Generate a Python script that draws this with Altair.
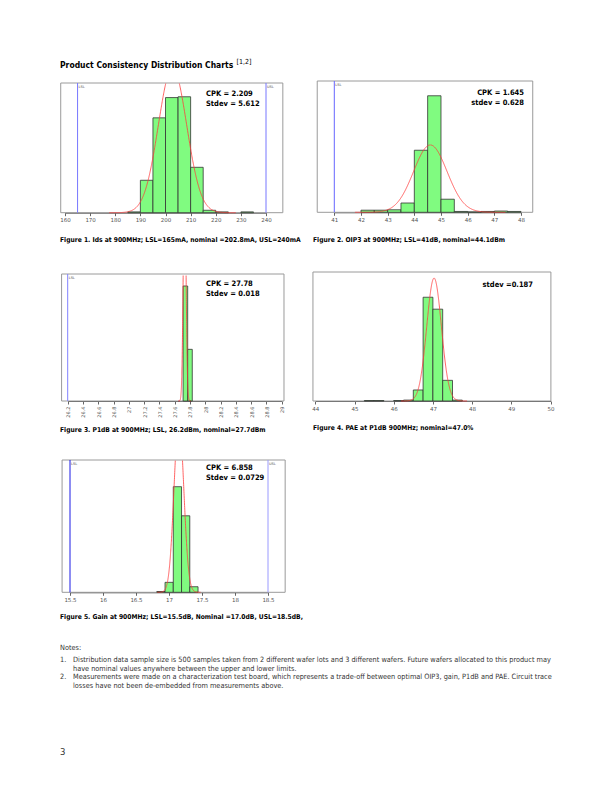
import altair as alt
import pandas as pd

W, H = 596, 776
FONT = "DejaVu Sans Condensed, sans-serif"
GREEN = "#80fb80"
BAR_STROKE = "#333333"
CURVE = "#ff3b3b"

TITLE = "Product Consistency Distribution Charts"
TITLE_REF = "[1,2]"

# ---------- Figure 1: Ids ----------
ids_bin_lo = [185, 190, 195, 200, 205, 210, 215, 220, 230]
ids_counts = [1, 40, 117, 142, 143, 56, 3, 1, 1]
ids_bin_w = 5
ids_ticks = [160, 170, 180, 190, 200, 210, 220, 230, 240]
ids_mean, ids_sd = 202.8, 5.612
ids_lsl, ids_usl = 165, 240
ids_ann = ["CPK = 2.209", "Stdev = 5.612"]
ids_caption = "Figure 1. Ids at 900MHz; LSL=165mA, nominal =202.8mA, USL=240mA"

# ---------- Figure 2: OIP3 ----------
oip3_bin_lo = [42, 42.5, 43, 43.5, 44, 44.5, 45, 45.5, 46, 46.5, 47, 47.5]
oip3_counts = [5, 5, 6, 22, 147, 276, 31, 2, 1, 2, 3, 2]
oip3_bin_w = 0.5
oip3_ticks = [41, 42, 43, 44, 45, 46, 47, 48]
oip3_mean, oip3_sd = 44.6, 0.628
oip3_lsl = 41
oip3_ann = ["CPK = 1.645", "stdev = 0.628"]
oip3_caption = "Figure 2.  OIP3 at 900MHz; LSL=41dB, nominal=44.1dBm"

# ---------- Figure 3: P1dB ----------
p1db_bin_lo = [27.71, 27.77]
p1db_counts = [345, 155]
p1db_bin_w = 0.06
p1db_ticks = [26.2, 26.4, 26.6, 26.8, 27.0, 27.2, 27.4, 27.6, 27.8, 28.0,
              28.2, 28.4, 28.6, 28.8, 29.0]
p1db_mean, p1db_sd = 27.73, 0.018
p1db_lsl = 26.2
p1db_ann = ["CPK = 27.78", "Stdev = 0.018"]
p1db_caption = "Figure 3. P1dB at 900MHz; LSL, 26.2dBm, nominal=27.7dBm"

# ---------- Figure 4: PAE ----------
pae_bin_lo = [45.25, 45.5, 46.0, 46.25, 46.5, 46.75, 47.0, 47.25, 47.5]
pae_counts = [1, 1, 1, 2, 24, 226, 200, 45, 2]
pae_bin_w = 0.25
pae_ticks = [44, 45, 46, 47, 48, 49, 50]
pae_mean, pae_sd = 47.03, 0.187
pae_ann = ["stdev =0.187"]
pae_caption = "Figure 4. PAE at P1dB 900MHz; nominal=47.0%"

# ---------- Figure 5: Gain ----------
gain_bin_lo = [16.815, 16.94, 17.065, 17.19, 17.315]
gain_counts = [2, 25, 265, 192, 14]
gain_bin_w = 0.125
gain_ticks = [15.5, 16, 16.5, 17, 17.5, 18, 18.5]
gain_mean, gain_sd = 17.15, 0.0729
gain_curve_area = 80
gain_lsl, gain_usl = 15.5, 18.5
gain_ann = ["CPK = 6.858", "Stdev = 0.0729"]
gain_caption = "Figure 5. Gain at 900MHz; LSL=15.5dB, Nominal =17.0dB, USL=18.5dB,"

notes_head = "Notes:"
notes_nums = ["1.", "", "2.", ""]
notes_lines = [
    "Distribution data sample size is 500 samples taken from 2 different wafer lots and 3 different wafers. Future wafers allocated to this product may",
    "have nominal values anywhere between the upper and lower limits.",
    "Measurements were made on a characterization test board, which represents a trade-off between optimal OIP3, gain, P1dB and PAE. Circuit trace",
    "losses have not been de-embedded from measurements above.",
]
page_number = "3"

ONE = pd.DataFrame({"_": [0]})


def text_layer(txt, x, y, size, weight="normal", color="#000", align="left", font=FONT):
    return alt.Chart(ONE).mark_text(
        text=txt, font=font, fontSize=size, fontWeight=weight, color=color,
        align=align, baseline="middle",
    ).encode(x=alt.value(x), y=alt.value(y))


def panel(bin_lo, counts, bw, ticks, dom, rng, frame_x, ybase, ytop, ymax,
          mean, sd, area, limits, ann, ann_x, ann_y, ann_align, fmt, angle=0,
          label_size=5.5):
    xs = alt.Scale(domain=dom, range=rng, nice=False, zero=False)
    ys = alt.Scale(domain=[0, ymax], range=[ybase, ytop], nice=False, zero=False)
    ax = alt.Axis(values=ticks, orient="bottom", offset=ybase - H, title=None,
                  grid=False, format=fmt, labelAngle=angle, labelFontSize=label_size,
                  labelColor="#555", labelFont="DejaVu Sans", tickColor="#666",
                  tickSize=3, domainColor="#555", domainWidth=1, labelFlush=False,
                  labelOverlap=False, labelPadding=2)
    layers = []
    frame = alt.Chart(ONE).mark_rect(fill="white", fillOpacity=0, stroke="#9a9a9a",
                                     strokeWidth=1).encode(
        x=alt.XDatum(frame_x[0], scale=xs, axis=ax), x2=alt.X2Datum(frame_x[1]),
        y=alt.YDatum(0, scale=ys, axis=None), y2=alt.Y2Datum(ymax))
    layers.append(frame)
    for val, col, lab in limits:
        rule = alt.Chart(ONE).mark_rule(color=col, strokeWidth=1).encode(
            x=alt.XDatum(val, scale=xs, axis=ax),
            y=alt.YDatum(0, scale=ys, axis=None), y2=alt.Y2Datum(ymax))
        lab_t = alt.Chart(ONE).mark_text(text=lab, fontSize=3.5, color="#555",
                                         align="left", baseline="top", dx=1,
                                         font="DejaVu Sans").encode(
            x=alt.XDatum(val, scale=xs, axis=ax), y=alt.value(ytop + 2))
        layers += [rule, lab_t]
    df = pd.DataFrame({"lo": bin_lo, "count": counts})
    bars = alt.Chart(df).transform_calculate(hi=f"datum.lo + {bw}").mark_rect(
        fill=GREEN, stroke=BAR_STROKE, strokeWidth=0.8).encode(
        x=alt.X("lo:Q", scale=xs, axis=ax), x2="hi:Q",
        y=alt.Y("count:Q", scale=ys, axis=None), y2=alt.Y2Datum(0))
    layers.append(bars)
    curve = alt.Chart(alt.sequence(mean - 4.5 * sd, mean + 4.5 * sd, sd / 60, as_="x")) \
        .transform_calculate(y=f"{area} * densityNormal(datum.x, {mean}, {sd})") \
        .transform_filter(f"datum.y <= {ymax}") \
        .transform_calculate(side=f"datum.x < {mean} ? 'L' : 'R'") \
        .mark_line(color=CURVE, strokeWidth=0.8).encode(
        x=alt.X("x:Q", scale=xs, axis=ax),
        y=alt.Y("y:Q", scale=ys, axis=None), detail="side:N")
    layers.append(curve)
    for i, t in enumerate(ann):
        layers.append(text_layer(t, ann_x, ann_y + 10 * i, 7.5, "bold", align=ann_align))
    return alt.layer(*layers)


p1 = panel(ids_bin_lo, ids_counts, ids_bin_w, ids_ticks, [160, 240], [57, 258],
           [158.3, 246.7], 204.7, 75, 160, ids_mean, ids_sd,
           sum(ids_counts) * ids_bin_w,
           [(ids_lsl, "#7777ff", "LSL"), (ids_usl, "#7777ff", "USL")],
           ids_ann, 198, 86, "left", "d")
p2 = panel(oip3_bin_lo, oip3_counts, oip3_bin_w, oip3_ticks, [41, 48], [326.3, 513],
           [40.36, 48.44], 204.3, 73, 311, oip3_mean, oip3_sd,
           sum(oip3_counts) * oip3_bin_w,
           [(oip3_lsl, "#6666ff", "LSL")],
           oip3_ann, 516, 85, "right", "d")
p3 = panel(p1db_bin_lo, p1db_counts, p1db_bin_w, p1db_ticks, [26.2, 29.0], [59.7, 273.7],
           [26.12, 29.03], 393, 266, 381, p1db_mean, p1db_sd,
           sum(p1db_counts) * p1db_bin_w,
           [(p1db_lsl, "#8080ff", "LSL")],
           p1db_ann, 198, 276, "left", ".3~g", angle=270, label_size=5)
p4 = panel(pae_bin_lo, pae_counts, pae_bin_w, pae_ticks, [44, 50], [307.3, 542.5],
           [43.94, 50.01], 393, 264, 281, pae_mean, pae_sd,
           sum(pae_counts) * pae_bin_w, [],
           pae_ann, 525, 277, "right", "d")
p5 = panel(gain_bin_lo, gain_counts, gain_bin_w, gain_ticks, [15.5, 18.5], [62, 260],
           [15.38, 18.76], 584.3, 452, 332, gain_mean, gain_sd, gain_curve_area,
           [(gain_lsl, "#1a1ae6", "LSL"), (gain_usl, "#9a9aff", "USL")],
           gain_ann, 198, 460, "left", ".3~g")

texts = [
    text_layer(TITLE, 52, 57, 8.5, "bold"),
    text_layer(TITLE_REF, 228.5, 54, 7, "normal"),
    text_layer(ids_caption, 52, 232, 6.7, "bold"),
    text_layer(oip3_caption, 305, 232, 6.7, "bold"),
    text_layer(p1db_caption, 52, 422, 6.7, "bold"),
    text_layer(pae_caption, 305, 420, 6.7, "bold"),
    text_layer(gain_caption, 52, 609, 6.7, "bold"),
    text_layer(notes_head, 52, 640, 7.3, color="#333"),
    text_layer(page_number, 52, 744, 9.5, color="#333"),
]
for i, (n, line) in enumerate(zip(notes_nums, notes_lines)):
    y = 652 + 8.5 * i
    if n:
        texts.append(text_layer(n, 52, y, 7.3, color="#333"))
    texts.append(text_layer(line, 65, y, 7.3, color="#333"))

chart = alt.layer(p1, p2, p3, p4, p5, *texts).resolve_scale(
    x="independent", y="independent").resolve_axis(
    x="independent", y="independent").properties(
    width=W, height=H, autosize=alt.AutoSizeParams(type="none"), padding=0,
    background="white").configure_view(strokeWidth=0)

chart.save("out.html", embed_options={"renderer": "svg", "actions": False})
